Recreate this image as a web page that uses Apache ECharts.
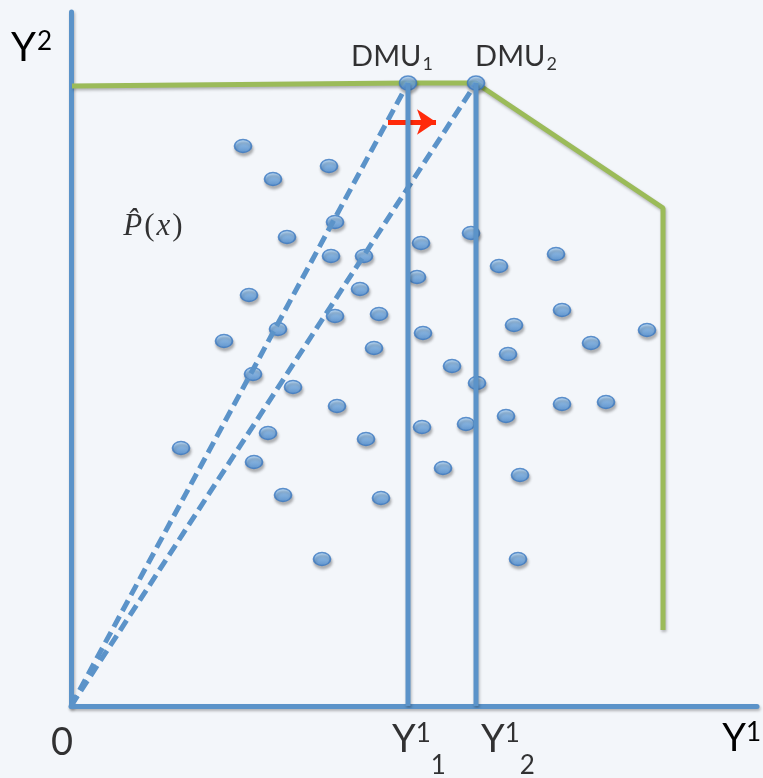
<!DOCTYPE html>
<html>
<head>
<meta charset="utf-8">
<script src="https://cdn.jsdelivr.net/npm/echarts@6/dist/echarts.min.js"></script>
<style>
  html, body { margin: 0; padding: 0; background: #f3f6fa; }
  #chart { width: 763px; height: 778px; }
</style>
</head>
<body>
<div id="chart"></div>
<script>
// Output space: Y1 along the horizontal axis, Y2 along the vertical axis.
const xMax = 686;
const yMax = 694;

// Observed units (Y1, Y2)
const samplePoints = [
  [172, 560], [202, 527], [258, 540], [264, 484], [216, 469],
  [260, 450], [293, 450], [350, 463], [400, 473], [346, 429],
  [428, 440], [485, 452], [178, 411], [289, 417], [264, 390],
  [308, 392], [207, 377], [153, 365], [303, 358], [352, 373],
  [443, 381], [491, 396], [520, 363], [576, 376], [437, 352],
  [381, 340], [182, 332], [222, 319], [406, 323], [266, 300],
  [491, 302], [535, 304], [435, 290], [395, 282], [351, 279],
  [197, 273], [295, 267], [110, 258], [183, 244], [372, 238],
  [449, 231], [212, 211], [310, 208], [251, 147], [447, 147]
];

// The two efficient units on the frontier
const dmuNames = ['DMU', 'DMU'];
const dmuIndex = ['1', '2'];
const dmuPoints = [[337, 623], [405, 623]];

// Piecewise-linear frontier of the output set
const frontier = [[1, 620], [337, 623], [405, 623], [592, 498], [592, 76]];

// Shift from DMU1 towards DMU2
const shiftArrow = [[317, 584], [365, 584]];

// Anchor of the output-set name
const setLabelAt = [81, 479];

// Horizontal-axis marks: origin and the Y1 values of the two units
const axisMarkText = ['0', '{y|Y}{sup|1}{sub|1}', '{y|Y}{sup|1}{sub|2}'];

const blue = '#5b93c9';
const green = '#9bbb59';
const sans = 'Lato';

const lineShadow = {
  shadowColor: 'rgba(0,0,0,0.28)', shadowBlur: 3, shadowOffsetX: 1, shadowOffsetY: 2
};

const bubbleStyle = {
  color: {
    type: 'linear', x: 0, y: 0, x2: 0, y2: 1,
    colorStops: [
      { offset: 0, color: '#bfe0fb' },
      { offset: 0.4, color: '#7fb6ec' },
      { offset: 1, color: '#4a8bd2' }
    ]
  },
  borderColor: '#3b78c0',
  borderWidth: 1.5,
  shadowColor: 'rgba(0,0,0,0.35)',
  shadowBlur: 3,
  shadowOffsetX: 1,
  shadowOffsetY: 3
};

const chart = echarts.init(document.getElementById('chart'), null, { renderer: 'canvas' });

// Labels above the two units
const dmuLabelOffsets = [[-16, 0], [40, 0]];
const dmuData = dmuPoints.map((p, i) => ({
  value: p,
  label: {
    formatter: '{m|' + dmuNames[i] + '}{s|' + dmuIndex[i] + '}',
    offset: dmuLabelOffsets[i]
  }
}));

// Rays from the origin through each unit
const raySeries = dmuPoints.map((p, i) => ({
  name: 'ray' + (i + 1),
  type: 'line',
  data: [[0, 0], p],
  symbol: 'none',
  silent: true,
  z: 4,
  lineStyle: { color: blue, width: 5, type: [12, 6] }
}));

// Vertical drops from each unit to the Y1 axis
const dropSeries = dmuPoints.map((p, i) => ({
  name: 'drop' + (i + 1),
  type: 'line',
  data: [p, [p[0], 0]],
  symbol: 'none',
  silent: true,
  z: 7,
  lineStyle: Object.assign({ color: blue, width: 5 }, lineShadow)
}));

// Axis mark anchors at y = 0
const markXs = [0, dmuPoints[0][0], dmuPoints[1][0]];
const markOffsets = [[-9, 0], [11, 0], [32, 0]];
const markData = markXs.map((x, i) => ({
  value: [x, 0],
  label: { formatter: axisMarkText[i], offset: markOffsets[i] }
}));

const option = {
  backgroundColor: '#f3f6fa',
  animation: false,
  grid: { left: 71, right: 6, top: 12, bottom: 72, containLabel: false, outerBoundsMode: 'none' },
  xAxis: {
    type: 'value', min: 0, max: xMax,
    splitLine: { show: false }, axisTick: { show: false }, axisLabel: { show: false },
    axisLine: { onZero: false, lineStyle: Object.assign({ color: blue, width: 5 }, lineShadow) },
    name: '{y|Y}{sup|1}',
    nameLocation: 'end',
    nameGap: 4,
    nameTextStyle: {
      align: 'right', verticalAlign: 'top', padding: [14, 0, 0, 0],
      rich: {
        y: { fontFamily: sans, fontSize: 38, color: '#000', verticalAlign: 'top', lineHeight: 44 },
        sup: { fontFamily: sans, fontSize: 26, color: '#000', verticalAlign: 'top', lineHeight: 26 }
      }
    }
  },
  yAxis: {
    type: 'value', min: 0, max: yMax,
    splitLine: { show: false }, axisTick: { show: false }, axisLabel: { show: false },
    axisLine: { onZero: false, lineStyle: Object.assign({ color: blue, width: 5 }, lineShadow) },
    name: '{y|Y}{sup|2}',
    nameLocation: 'end',
    nameGap: -16,
    nameTextStyle: {
      align: 'right', verticalAlign: 'top', padding: [0, 19, 0, 0],
      rich: {
        y: { fontFamily: sans, fontSize: 40, color: '#000', verticalAlign: 'top', lineHeight: 46 },
        sup: { fontFamily: sans, fontSize: 26, color: '#000', verticalAlign: 'top', lineHeight: 26, padding: [1, 0, 0, 1] }
      }
    }
  },
  series: [
    {
      name: 'frontier',
      type: 'line',
      data: frontier,
      symbol: 'none',
      silent: true,
      z: 2,
      lineStyle: Object.assign({ color: green, width: 5 }, lineShadow)
    },
    {
      name: 'units',
      type: 'scatter',
      data: samplePoints,
      symbol: 'circle',
      symbolSize: [17, 13],
      z: 3,
      itemStyle: bubbleStyle
    },
    ...raySeries,
    ...dropSeries,
    {
      name: 'efficient',
      type: 'scatter',
      data: dmuData,
      symbol: 'circle',
      symbolSize: [17, 14],
      z: 6,
      itemStyle: bubbleStyle,
      label: {
        show: true,
        position: 'top',
        distance: 4,
        rich: {
          m: { fontFamily: sans, fontSize: 29, color: '#000', verticalAlign: 'bottom', lineHeight: 32 },
          s: { fontFamily: sans, fontSize: 18, color: '#000', verticalAlign: 'bottom', lineHeight: 18, padding: [0, 0, -2, 1] }
        }
      },
      markLine: {
        silent: true,
        symbol: ['none', 'arrow'],
        symbolSize: 19,
        label: { show: false },
        lineStyle: { color: '#ff2a0a', width: 5, type: 'solid' },
        data: [[{ coord: shiftArrow[0] }, { coord: shiftArrow[1] }]],
        z: 6
      }
    },
    {
      name: 'axisMarks',
      type: 'scatter',
      data: markData,
      symbolSize: 1,
      silent: true,
      z: 8,
      itemStyle: { color: 'rgba(0,0,0,0)' },
      label: {
        show: true,
        position: 'bottom',
        distance: 14,
        fontFamily: sans,
        fontSize: 38,
        color: '#000',
        lineHeight: 44,
        rich: {
          y: { fontFamily: sans, fontSize: 38, color: '#000', verticalAlign: 'top', lineHeight: 58 },
          sup: { fontFamily: sans, fontSize: 26, color: '#000', verticalAlign: 'top', lineHeight: 26 },
          sub: { fontFamily: sans, fontSize: 26, color: '#000', verticalAlign: 'bottom', lineHeight: 26 }
        }
      }
    },
    {
      name: 'setName',
      type: 'scatter',
      data: [setLabelAt],
      symbolSize: 1,
      silent: true,
      z: 8,
      itemStyle: { color: 'rgba(0,0,0,0)' },
      label: {
        show: true,
        position: 'inside',
        formatter: '{p|P\u0302}{r|(}{p|x}{r|)}',
        rich: {
          p: { fontFamily: 'Liberation Serif', fontStyle: 'italic', fontSize: 31, color: '#000', padding: [0, 2, 0, 2] },
          r: { fontFamily: 'Liberation Serif', fontSize: 31, color: '#000' }
        }
      }
    }
  ]
};

chart.setOption(option);
</script>
</body>
</html>
